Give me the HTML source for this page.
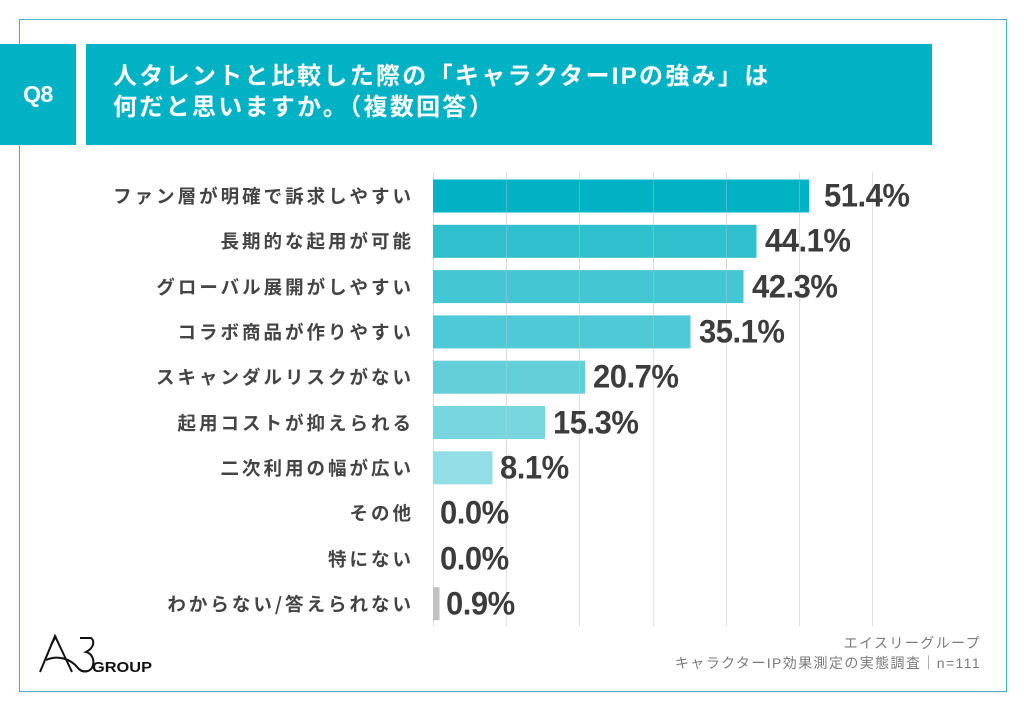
<!DOCTYPE html>
<html><head><meta charset="utf-8">
<style>
html,body{margin:0;padding:0;background:#fff;}
body{width:1024px;height:709px;position:relative;overflow:hidden;font-family:"Liberation Sans","Noto Sans CJK JP",sans-serif;}
.frame{position:absolute;left:19px;top:19px;width:988px;height:673px;border:1.5px solid #4ab2bc;box-sizing:border-box;box-shadow:0 1px 2px rgba(0,0,0,0.08);}
.q8{position:absolute;left:0;top:44px;width:76px;height:101px;background:#00b2c4;color:#fff;font-weight:bold;font-size:23px;line-height:101px;text-align:center;letter-spacing:-0.5px;}
.tbox{position:absolute;left:86px;top:44px;width:846px;height:101px;background:#00b2c4;}
.title{position:absolute;left:113px;top:61px;color:#fff;font-weight:bold;font-size:24px;line-height:31px;letter-spacing:2.3px;white-space:nowrap;font-family:"Liberation Sans","Noto Sans CJK JP",sans-serif;}
.lab{position:absolute;right:610px;height:30px;line-height:30px;font-size:18.5px;font-weight:bold;color:#444;letter-spacing:3px;white-space:nowrap;text-align:right;font-family:"Noto Sans CJK JP",sans-serif;}
.val{position:absolute;height:40px;line-height:40px;font-size:31px;font-weight:bold;color:#3c3c3c;white-space:nowrap;letter-spacing:-0.5px;transform:scaleY(1.06);transform-origin:0 50%;}
.foot{position:absolute;right:43px;font-size:14px;color:#7a7a7a;letter-spacing:1.4px;white-space:nowrap;text-align:right;line-height:20px;}
</style></head><body>
<div class="frame"></div>
<div class="q8">Q8</div>
<div class="tbox"></div>
<div class="title">人タレントと比較した際の「キャラクターIPの強み」は<br>何だと思いますか。（複数回答）</div>

<svg width="1024" height="709" style="position:absolute;left:0;top:0" xmlns="http://www.w3.org/2000/svg">
  <g stroke="#e0e0e0" stroke-width="1">
    <line x1="433.5" y1="172" x2="433.5" y2="626"/>
    <line x1="506.5" y1="172" x2="506.5" y2="626"/>
    <line x1="579.5" y1="172" x2="579.5" y2="626"/>
    <line x1="653.5" y1="172" x2="653.5" y2="626"/>
    <line x1="726.5" y1="172" x2="726.5" y2="626"/>
    <line x1="799.5" y1="172" x2="799.5" y2="626"/>
    <line x1="872.5" y1="172" x2="872.5" y2="626"/>
  </g>
  <rect x="433" y="179.5" width="376" height="33" fill="#00b2c4"/>
  <rect x="433" y="224.8" width="323.5" height="33" fill="#30bfcc"/>
  <rect x="433" y="270.1" width="310.5" height="33" fill="#45c6d3"/>
  <rect x="433" y="315.4" width="257.5" height="33" fill="#4ec9d5"/>
  <rect x="433" y="360.7" width="152" height="33" fill="#64cfd9"/>
  <rect x="433" y="406" width="112" height="33" fill="#78d6df"/>
  <rect x="433" y="451.3" width="59.5" height="33" fill="#93dee6"/>
  <rect x="433" y="587.2" width="6.5" height="33" fill="#c2c2c2"/>
  <g stroke="#d0d0d0" stroke-width="1" opacity="0.35">
    <line x1="506.5" y1="179" x2="506.5" y2="485"/>
    <line x1="579.5" y1="179" x2="579.5" y2="395"/>
    <line x1="653.5" y1="179" x2="653.5" y2="350"/>
    <line x1="726.5" y1="179" x2="726.5" y2="305"/>
    <line x1="799.5" y1="179" x2="799.5" y2="213"/>
  </g>
  <!-- logo -->
  <g fill="none" stroke="#111" stroke-width="2" stroke-linejoin="miter">
    <path d="M40 672 L55 636 L72 672"/>
    <path d="M51 645 L56 636"/>
    <path d="M46 660 C57 655 70 658 78 668 C80 671 84 672 87 671"/>
    <path d="M80 638 L91 638 C95 641 94 648 86 652 C95 654 96 668 88 671 C84 672 81 671 79 669"/>
  </g>
  <text x="92" y="672" font-family="Liberation Sans, sans-serif" font-weight="bold" font-size="15" fill="#111" textLength="60" lengthAdjust="spacingAndGlyphs">GROUP</text>
</svg>

<div class="lab" style="top:181px">ファン層が明確で訴求しやすい</div>
<div class="lab" style="top:226px">長期的な起用が可能</div>
<div class="lab" style="top:271.5px">グローバル展開がしやすい</div>
<div class="lab" style="top:317px">コラボ商品が作りやすい</div>
<div class="lab" style="top:362px">スキャンダルリスクがない</div>
<div class="lab" style="top:407.5px">起用コストが抑えられる</div>
<div class="lab" style="top:453px">二次利用の幅が広い</div>
<div class="lab" style="top:498px">その他</div>
<div class="lab" style="top:543.5px">特にない</div>
<div class="lab" style="top:589px">わからない/答えられない</div>

<div class="val" style="left:824px;top:176px">51.4%</div>
<div class="val" style="left:765px;top:221px">44.1%</div>
<div class="val" style="left:752px;top:266.5px">42.3%</div>
<div class="val" style="left:699px;top:312px">35.1%</div>
<div class="val" style="left:593px;top:357px">20.7%</div>
<div class="val" style="left:553px;top:402.5px">15.3%</div>
<div class="val" style="left:500px;top:448px">8.1%</div>
<div class="val" style="left:440px;top:493px">0.0%</div>
<div class="val" style="left:440px;top:538.5px">0.0%</div>
<div class="val" style="left:446px;top:584px">0.9%</div>

<div class="foot" style="top:633px">エイスリーグループ</div>
<div class="foot" style="top:653px">キャラクターIP効果測定の実態調査｜n=111</div>
</body></html>
